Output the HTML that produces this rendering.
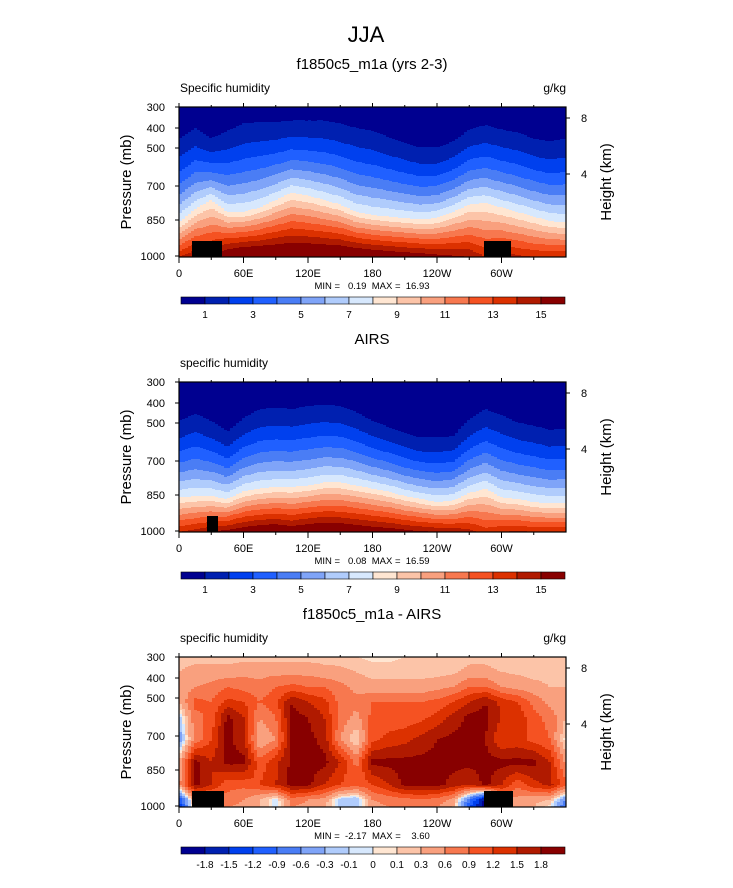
<!DOCTYPE html>
<html><head><meta charset="utf-8"><style>
body{margin:0;background:#fff;}
svg{display:block;font-family:"Liberation Sans",Arial,sans-serif;}
text{white-space:pre;}
</style></head><body>
<svg id="fig" width="733" height="888" viewBox="0 0 733 888" xmlns="http://www.w3.org/2000/svg">
<text x="366" y="42" font-size="22" text-anchor="middle">JJA</text>
<g id="panels"></g>
</svg>
<script>
// ---------- data ----------
const lons = [0,15,30,45,60,75,90,105,120,135,150,165,180,195,210,225,240,255,270,285,300,315,330,345,360];
const qLevels = [1,2,3,4,5,6,7,8,9,10,11,12,13,14,15];
const qLevelLabels = ["1","3","5","7","9","11","13","15"];
const dLevels = [-1.8,-1.5,-1.2,-0.9,-0.6,-0.3,-0.1,0,0.1,0.3,0.6,0.9,1.2,1.5,1.8];
const dLevelLabels = ["-1.8","-1.5","-1.2","-0.9","-0.6","-0.3","-0.1","0","0.1","0.3","0.6","0.9","1.2","1.5","1.8"];
const pTicks = [300,400,500,700,850,1000];
const pTickPos = [0,21,41,79,113,149];
const hTicks = ["8","4"];
const lonLabels = ["0","60E","120E","180","120W","60W"];
// model: height (fraction of plot) of q=1 and q=8 contours, and surface q
const m_t1 = [0.79,0.86,0.79,0.84,0.89,0.9,0.9,0.91,0.91,0.91,0.89,0.86,0.84,0.8,0.76,0.73,0.73,0.77,0.85,0.88,0.85,0.83,0.79,0.77,0.79];
const m_t8 = [0.23,0.32,0.38,0.3,0.3,0.33,0.38,0.43,0.41,0.38,0.35,0.3,0.28,0.27,0.26,0.25,0.26,0.3,0.35,0.36,0.33,0.3,0.27,0.24,0.23];
const m_qs = [14,15,15,16.5,17,17,17,17,17,17,17,16.8,16.5,16.2,16,15.8,15.5,15.2,15,14,14.5,14.3,14,14,14];
const a_t1 = [0.74,0.79,0.74,0.67,0.76,0.82,0.83,0.82,0.84,0.85,0.84,0.8,0.74,0.7,0.66,0.63,0.63,0.64,0.75,0.82,0.78,0.73,0.71,0.68,0.69];
const a_t8 = [0.23,0.24,0.24,0.22,0.27,0.29,0.3,0.3,0.31,0.33,0.33,0.31,0.29,0.27,0.24,0.22,0.2,0.21,0.26,0.29,0.23,0.22,0.2,0.19,0.19];
const a_qs = [14,14.5,15,15.5,16,16.3,16.5,16,16.5,16.6,16.5,16.3,16,15.8,15.5,15.2,15,14.8,14.5,13.5,14,14.2,14,14,14];
// difference grid rows at heights dRowT
const dRowT = [0,0.05,0.15,0.3,0.45,0.6,0.7,0.8,0.9,1.0];
const dRow0 = [-1.5,0.3,0.5,0.6,0.5,0.3,-0.1,0.6,0.5,0.3,-0.2,-0.3,0.5,0.6,0.7,0.7,0.6,0.3,-1.2,-2.0,0.3,0.5,0.3,0.0,-1.0];
const dRow1 = [-1.2,0.5,0.6,0.8,0.6,0.3,-0.1,0.8,0.6,0.5,-0.2,-0.3,0.6,0.7,0.8,0.9,0.8,0.5,-0.8,-1.9,0.5,0.5,0.4,0.3,-0.6];
const dRow2 = [0.5,1.9,1.5,1.0,1.0,1.2,1.5,1.9,1.9,1.5,1.2,1.0,1.2,1.5,1.9,1.9,1.9,1.7,1.5,1.9,1.5,1.0,1.4,1.6,1.0];
const dRow3 = [0.3,1.9,1.5,1.9,1.9,1.0,1.4,1.9,1.9,1.9,1.5,0.8,1.9,1.9,1.9,1.9,1.9,1.9,1.9,1.9,1.9,1.9,1.9,1.5,0.5];
const dRow4 = [-0.5,0.7,1.2,1.9,1.6,0.3,0.6,1.9,1.9,1.7,0.6,0.05,1.1,1.3,1.4,1.6,1.8,1.9,1.9,1.8,1.2,1.3,1.1,0.9,0.0];
const dRow5 = [-0.2,0.8,1.0,1.9,1.5,0.6,0.9,1.9,1.8,1.5,0.8,0.5,1.0,1.0,1.0,1.1,1.3,1.6,1.9,1.9,1.5,1.4,1.0,0.8,0.3];
const dRow6 = [0.3,1.0,0.9,1.3,1.2,0.9,1.1,1.8,1.5,1.3,0.8,0.7,0.9,0.9,0.9,0.9,1.0,1.2,1.5,1.8,1.4,1.2,0.8,0.5,0.3];
const dRow7 = [0.4,0.6,0.7,0.9,0.8,0.7,0.9,1.0,0.9,0.9,0.7,0.5,0.4,0.4,0.4,0.4,0.5,0.6,0.9,0.9,0.6,0.5,0.4,0.3,0.3];
const dRow8 = [0.3,0.4,0.4,0.4,0.5,0.5,0.5,0.5,0.5,0.4,0.4,0.3,0.2,0.2,0.2,0.2,0.2,0.25,0.4,0.4,0.3,0.25,0.2,0.2,0.2];
const dRow9 = [0.2,0.2,0.2,0.2,0.2,0.2,0.2,0.2,0.2,0.2,0.15,0.1,0.05,0.05,0.1,0.1,0.1,0.1,0.2,0.2,0.1,0.1,0.15,0.2,0.2];
const dRows = [dRow0,dRow1,dRow2,dRow3,dRow4,dRow5,dRow6,dRow7,dRow8,dRow9];

const colors = ["#000090","#0020b0","#0040ee","#2060ff","#4a7df5","#7fa4f8","#b0ccfc","#d7e8fd","#ffe6d2","#fcc4a8","#f9a07e","#f7784f","#f55222","#dc3100","#b01a00","#880000"];

// ---------- helpers ----------
const NS="http://www.w3.org/2000/svg";
const root=document.getElementById('panels');
const X0=179, X1=566, PH=150;
function xOf(lon){return X0+lon/360*(X1-X0);}
function mk(tag,attrs,parent){const e=document.createElementNS(NS,tag);for(const k in attrs)e.setAttribute(k,attrs[k]);(parent||root).appendChild(e);return e;}
function interp(arr,lon){const i=Math.min(lons.length-2,Math.floor(lon/15));const f=(lon-lons[i])/15;return arr[i]*(1-f)+arr[i+1]*f;}
function classify(v,levels){let k=0;while(k<levels.length&&v>=levels[k])k++;return k;}
function modelQ(t1,t8,qs,lon,t){
  const a=interp(t1,lon),b=interp(t8,lon),s=interp(qs,lon);
  if(t<b) return s+(8-s)*(t/b);
  if(t<a){const r=1+(Math.sqrt(8)-1)*(1-(t-b)/(a-b));return r*r;}
  return 1-(t-a)*4;
}
function diffV(lon,t){
  let r=0;while(r<dRowT.length-2&&t>dRowT[r+1])r++;
  const f=(t-dRowT[r])/(dRowT[r+1]-dRowT[r]);
  return interp(dRows[r],lon)*(1-f)+interp(dRows[r+1],lon)*f;
}

function panel(top,title,left,field,levels,labels,minmax,boxes,name){
  const g=mk('g',{});
  
  
  const t=mk('text',{x:372,y:top-38,'font-size':15,'text-anchor':'middle'},g);t.textContent=title;
  
  const l=mk('text',{x:180,y:top-15,'font-size':12},g);l.textContent=left;
  
  if(name!=='panel-airs'){const u=mk('text',{x:566,y:top-15,'font-size':12,'text-anchor':'end'},g);u.textContent='g/kg';
  }
  const fg=mk('g',{'shape-rendering':'crispEdges'},g);
  
  const dx=3,dy=1;
  for(let x=X0;x<X1;x+=dx){
    const lon=((x+dx/2)-X0)/(X1-X0)*360;
    let y=0;
    while(y<PH){
      const c=classify(field(lon,1-(y+dy/2)/PH),levels);
      let h=dy;
      while(y+h<PH&&classify(field(lon,1-(y+h+dy/2)/PH),levels)===c)h+=dy;
      mk('rect',{x:x,y:top+y,width:Math.min(dx,X1-x),height:Math.min(h,PH-y),fill:colors[c]},fg);
      y+=h;
    }
  }
  boxes.forEach(b=>{const r=mk('rect',{x:b[0],y:top+134,width:b[1]-b[0],height:16,fill:'#000'},g);
    });
  mk('rect',{x:X0,y:top,width:X1-X0,height:PH,fill:'none',stroke:'#000','stroke-width':1.2},g);
  pTicks.forEach((p,i)=>{const yy=top+pTickPos[i];
    mk('line',{x1:X0-4,x2:X0,y1:yy,y2:yy,stroke:'#000'},g);
    const tx=mk('text',{x:X0-14,y:yy+4,'font-size':11,'text-anchor':'end'},g);tx.textContent=p;
    });
  [11,67].forEach((o,i)=>{const yy=top+o;mk('line',{x1:X1,x2:X1+4,y1:yy,y2:yy,stroke:'#000'},g);
    const tx=mk('text',{x:X1+18,y:yy+4,'font-size':11,'text-anchor':'middle'},g);tx.textContent=hTicks[i];
    });
  const yt=mk('text',{transform:`translate(131,${top+75}) rotate(-90)`,'font-size':15,'text-anchor':'middle'},g);yt.textContent='Pressure (mb)';
  
  const yt2=mk('text',{transform:`translate(611,${top+75}) rotate(-90)`,'font-size':15,'text-anchor':'middle'},g);yt2.textContent='Height (km)';
  
  for(let lon=0;lon<360;lon+=30){const xx=xOf(lon);const maj=lon%60===0;
    mk('line',{x1:xx,x2:xx,y1:top+PH,y2:top+PH+(maj?6:3),stroke:'#000'},g);
    mk('line',{x1:xx,x2:xx,y1:top,y2:top-(maj?4:2),stroke:'#000'},g);
    if(maj){const tx=mk('text',{x:xx,y:top+PH+20,'font-size':11,'text-anchor':'middle'},g);tx.textContent=lonLabels[lon/60];
      }}
  const mm=mk('text',{x:372,y:top+PH+32,'font-size':9.5,'text-anchor':'middle'},g);mm.textContent=minmax;
  
  const cb=mk('g',{},g);
  const cx0=181,cw=(565-181)/16,cy=top+PH+40;
  colors.forEach((c,i)=>mk('rect',{x:cx0+i*cw,y:cy,width:cw,height:7,fill:c,stroke:'#000','stroke-width':0.6},cb));
  const step=levels.length===labels.length?1:2;
  labels.forEach((lab,i)=>{const li=i*step;const tx=mk('text',{x:cx0+(li+1)*cw,y:cy+21,'font-size':10,'text-anchor':'middle'},cb);tx.textContent=lab;
    });
}
panel(107,'f1850c5_m1a (yrs 2-3)','Specific humidity',(lon,t)=>modelQ(m_t1,m_t8,m_qs,lon,t),qLevels,qLevelLabels,'MIN =   0.19  MAX =  16.93',[[192,222],[484,511]],'panel-model');
panel(382,'AIRS','specific humidity',(lon,t)=>modelQ(a_t1,a_t8,a_qs,lon,t),qLevels,qLevelLabels,'MIN =   0.08  MAX =  16.59',[[207,218]],'panel-airs');
panel(657,'f1850c5_m1a - AIRS','specific humidity',diffV,dLevels,dLevelLabels,'MIN =  -2.17  MAX =    3.60',[[192,224],[484,513]],'panel-difference');
</script>
</body></html>
